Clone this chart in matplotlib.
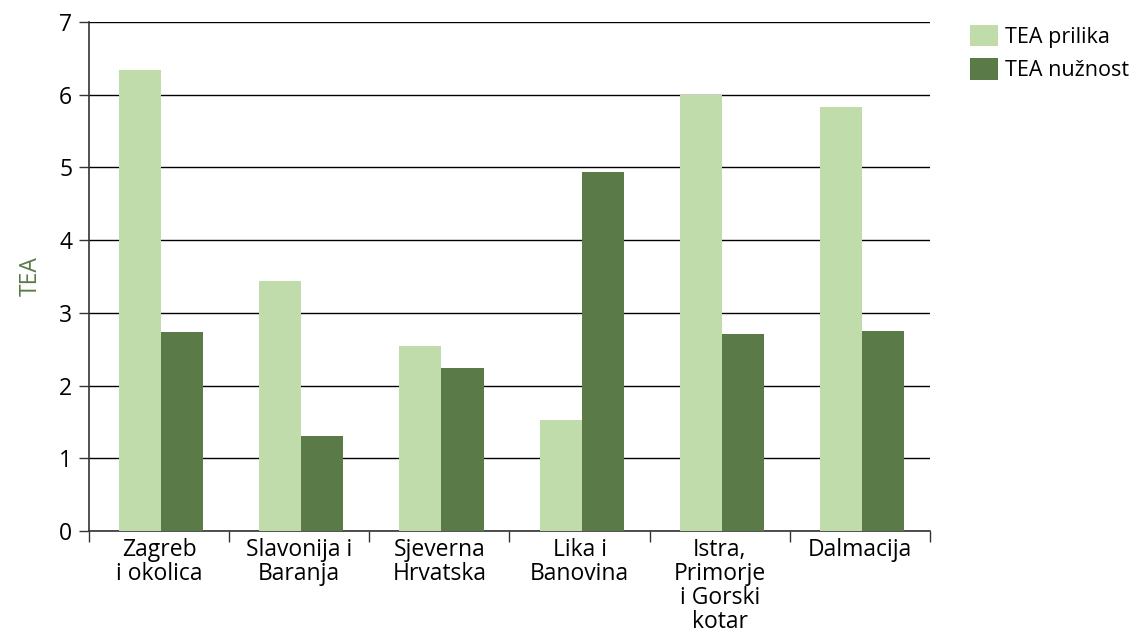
import matplotlib
matplotlib.use("Agg")
import matplotlib.pyplot as plt
from matplotlib.patches import Patch
import numpy as np

regions = ["Zagreb\ni okolica", "Slavonija i\nBaranja", "Sjeverna\nHrvatska",
           "Lika i\nBanovina", "Istra,\nPrimorje\ni Gorski\nkotar", "Dalmacija"]
tea_prilika = [6.34, 3.44, 2.54, 1.53, 6.00, 5.83]
tea_nuznost = [2.74, 1.31, 2.24, 4.94, 2.71, 2.75]
series_names = ["TEA prilika", "TEA nužnost"]
y_ticks = [0, 1, 2, 3, 4, 5, 6, 7]

light = "#c1dcab"
dark = "#5a7a48"
fs = 16.5

plt.rcParams["font.family"] = ["Open Sans", "DejaVu Sans"]

fig = plt.figure(figsize=(11.41, 6.40), dpi=100)
ax = fig.add_axes([0.078, 0.1703, 0.737, 0.7953])

x = np.arange(len(regions))
w = 0.3
shift = 0.015
ax.bar(x + shift - w / 2, tea_prilika, width=w, color=light, zorder=3)
ax.bar(x + shift + w / 2, tea_nuznost, width=w, color=dark, zorder=3)

ax.set_xlim(-0.5, len(regions) - 0.5)
ax.set_ylim(0, 7)
ax.set_yticks(y_ticks)
ax.yaxis.grid(True, color="black", linewidth=1.0, zorder=1)
ax.set_axisbelow(True)

# category boundaries carry the tick marks, labels sit at the centres
ax.set_xticks(np.arange(len(regions) + 1) - 0.5)
ax.set_xticklabels([])
ax.set_xticks(x, minor=True)
ax.set_xticklabels(regions, minor=True, fontsize=fs, linespacing=1.0)
ax.tick_params(axis="x", which="major", length=8, width=1, color="#333333")
ax.tick_params(axis="x", which="minor", length=0, pad=5)
ax.tick_params(axis="y", length=7, width=1, color="#333333", labelsize=fs, pad=5)

for s in ["top", "right"]:
    ax.spines[s].set_visible(False)
for s in ["left", "bottom"]:
    ax.spines[s].set_color("#333333")
    ax.spines[s].set_linewidth(1.2)

ax.set_ylabel("TEA", color=dark, fontsize=fs, labelpad=12)

handles = [Patch(facecolor=light), Patch(facecolor=dark)]
fig.legend(handles, series_names, loc="upper left", bbox_to_anchor=(0.843, 0.975),
           frameon=False, fontsize=15.5, handlelength=1.3, handleheight=1.15,
           handletextpad=0.3, labelspacing=0.5, borderaxespad=0)

fig.savefig("out.png", dpi=100)
